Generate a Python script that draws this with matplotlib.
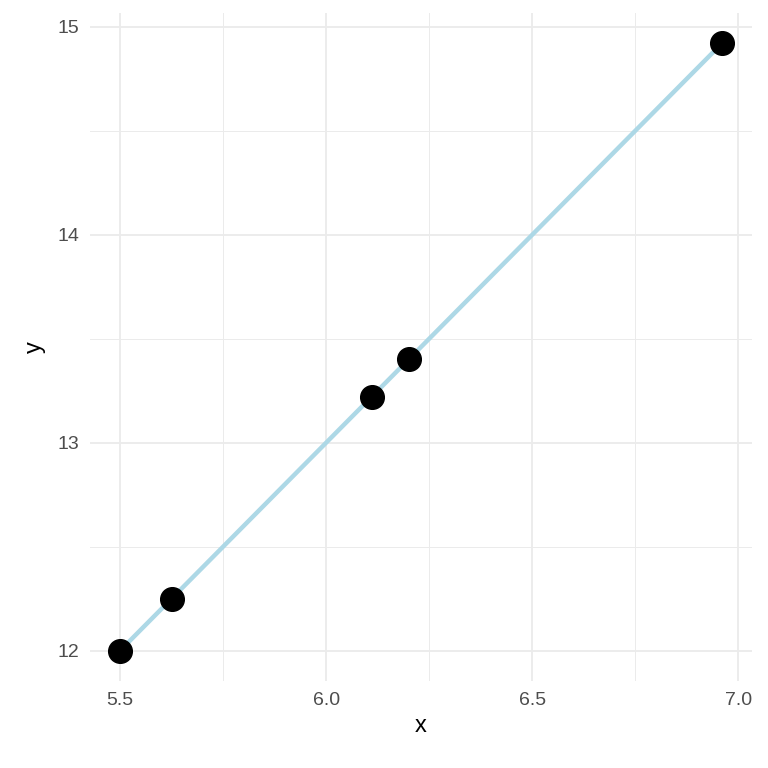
import matplotlib
matplotlib.use("Agg")
import matplotlib.pyplot as plt
from matplotlib.ticker import MultipleLocator

x = [5.5, 5.625, 6.11, 6.2, 6.96]
y = [12.0, 12.25, 13.22, 13.4, 14.92]

plt.rcParams['font.family'] = ['Liberation Sans', 'DejaVu Sans']

fig = plt.figure(figsize=(7.68, 7.68), dpi=100)
ax = fig.add_axes([90/768, 87/768, 662/768, 668/768])

ax.plot(x, y, color='#ADD8E6', lw=3.2, zorder=2)
ax.scatter(x, y, s=290, color='black', zorder=3)

xr = max(x) - min(x)
yr = max(y) - min(y)
ax.set_xlim(min(x) - 0.05 * xr, max(x) + 0.05 * xr)
ax.set_ylim(min(y) - 0.05 * yr, max(y) + 0.05 * yr)

ax.xaxis.set_major_locator(MultipleLocator(0.5))
ax.xaxis.set_minor_locator(MultipleLocator(0.25))
ax.yaxis.set_major_locator(MultipleLocator(1))
ax.yaxis.set_minor_locator(MultipleLocator(0.5))
ax.grid(which='major', color='#EBEBEB', lw=1.3)
ax.grid(which='minor', color='#EBEBEB', lw=0.7)
ax.set_axisbelow(True)
for s in ax.spines.values():
    s.set_visible(False)
ax.tick_params(which='both', length=0, labelsize=14, labelcolor='#4D4D4D', pad=8)
ax.set_xticklabels(['%.1f' % t for t in ax.get_xticks()])
ax.set_xlabel('x', fontsize=17, labelpad=4)
ax.set_ylabel('y', fontsize=17, labelpad=8)

fig.savefig('out.png', dpi=100, facecolor='white')
